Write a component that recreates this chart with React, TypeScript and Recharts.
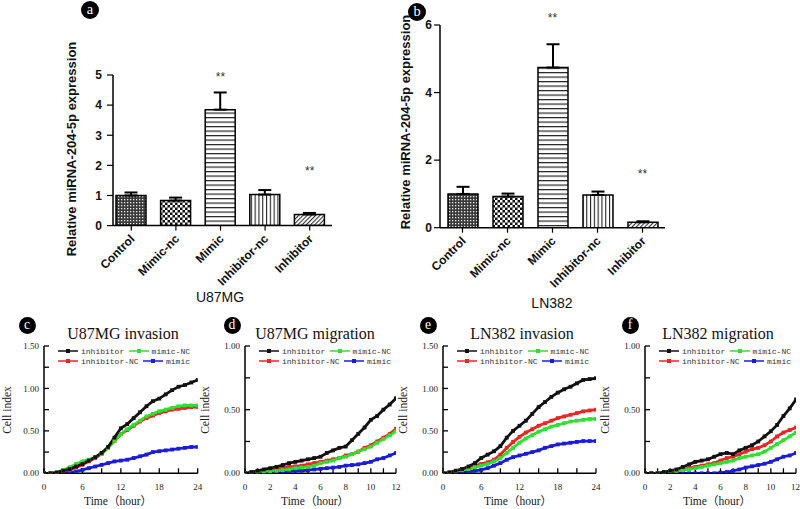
import React from "react";
import {
  BarChart,
  Bar,
  Cell,
  XAxis,
  YAxis,
  ErrorBar,
  ReferenceDot,
  LineChart,
  Line,
  Legend,
} from "recharts";

// ---- bar panels (a, b) ----
const GROUPS = ["Control", "Mimic-nc", "Mimic", "Inhibitor-nc", "Inhibitor"];
const U87_MEAN = [1.0, 0.83, 3.85, 1.03, 0.37];
const U87_SEM = [0.1, 0.1, 0.57, 0.15, 0.05];
const LN382_MEAN = [1.0, 0.92, 4.74, 0.97, 0.16];
const LN382_SEM = [0.21, 0.09, 0.69, 0.1, 0.03];
const U87_TICKS = [0, 1, 2, 3, 4, 5];
const LN382_TICKS = [0, 2, 4, 6];
const U87_SIG = [
  { group: "Mimic", at: 4.95 },
  { group: "Inhibitor", at: 1.82 },
];
const LN382_SIG = [
  { group: "Mimic", at: 6.22 },
  { group: "Inhibitor", at: 1.6 },
];

// ---- curve panels (c-f) ----
const TIME_INV = [0, 1, 2, 3, 4, 5, 6, 7, 8, 9, 10, 11, 12, 13, 14, 15, 16, 17, 18, 19, 20, 21, 22, 23, 24];
const TIME_MIG = [0, 0.5, 1, 1.5, 2, 2.5, 3, 3.5, 4, 4.5, 5, 5.5, 6, 6.5, 7, 7.5, 8, 8.5, 9, 9.5, 10, 10.5, 11, 11.5, 12];
const TICKS_INV = [0, 3, 6, 9, 12, 15, 18, 21, 24];
const TICKS_MIG = [0, 1, 2, 3, 4, 5, 6, 7, 8, 9, 10, 11, 12];
const TICKS_CI_INV = [0, 0.25, 0.5, 0.75, 1, 1.25, 1.5];
const TICKS_CI_MIG = [0, 0.25, 0.5, 0.75, 1];

// c: U87MG invasion
const C_INHIBITOR = [0, 0, 0.01, 0.03, 0.05, 0.08, 0.11, 0.15, 0.19, 0.24, 0.31, 0.42, 0.53, 0.58, 0.65, 0.72, 0.79, 0.85, 0.88, 0.93, 0.98, 1.02, 1.04, 1.07, 1.1];
const C_INHIBITOR_NC = [0, 0, 0, 0.02, 0.04, 0.07, 0.1, 0.14, 0.18, 0.23, 0.3, 0.38, 0.46, 0.51, 0.56, 0.61, 0.65, 0.68, 0.71, 0.73, 0.75, 0.76, 0.77, 0.78, 0.78];
const C_MIMIC_NC = [0, 0, 0.01, 0.04, 0.07, 0.11, 0.14, 0.16, 0.19, 0.23, 0.3, 0.38, 0.46, 0.52, 0.57, 0.62, 0.67, 0.7, 0.73, 0.75, 0.77, 0.79, 0.8, 0.8, 0.8];
const C_MIMIC = [0, 0, 0, 0.005, 0.01, 0.02, 0.04, 0.06, 0.08, 0.1, 0.12, 0.14, 0.15, 0.16, 0.18, 0.2, 0.22, 0.25, 0.26, 0.27, 0.28, 0.29, 0.3, 0.31, 0.31];

// d: U87MG migration
const D_INHIBITOR = [0, 0.01, 0.02, 0.03, 0.04, 0.05, 0.065, 0.08, 0.09, 0.1, 0.11, 0.12, 0.13, 0.16, 0.18, 0.2, 0.21, 0.26, 0.31, 0.36, 0.42, 0.45, 0.5, 0.54, 0.59];
const D_INHIBITOR_NC = [0, 0, 0.01, 0.015, 0.02, 0.03, 0.04, 0.05, 0.055, 0.06, 0.07, 0.08, 0.09, 0.1, 0.11, 0.12, 0.14, 0.15, 0.17, 0.2, 0.22, 0.25, 0.28, 0.31, 0.35];
const D_MIMIC_NC = [0, 0, 0, 0.01, 0.015, 0.02, 0.025, 0.03, 0.04, 0.045, 0.05, 0.06, 0.08, 0.09, 0.1, 0.12, 0.13, 0.15, 0.17, 0.19, 0.21, 0.24, 0.27, 0.3, 0.33];
const D_MIMIC = [0, 0, 0, 0, 0.005, 0.01, 0.01, 0.015, 0.02, 0.02, 0.025, 0.03, 0.035, 0.04, 0.045, 0.05, 0.06, 0.065, 0.07, 0.08, 0.09, 0.11, 0.12, 0.14, 0.16];

// e: LN382 invasion
const E_INHIBITOR = [0, 0.01, 0.03, 0.05, 0.08, 0.12, 0.18, 0.22, 0.26, 0.32, 0.42, 0.5, 0.56, 0.62, 0.7, 0.78, 0.84, 0.9, 0.95, 0.99, 1.02, 1.06, 1.1, 1.11, 1.12];
const E_INHIBITOR_NC = [0, 0.01, 0.03, 0.05, 0.07, 0.09, 0.11, 0.13, 0.16, 0.22, 0.3, 0.37, 0.43, 0.48, 0.52, 0.56, 0.59, 0.62, 0.65, 0.67, 0.69, 0.71, 0.73, 0.74, 0.75];
const E_MIMIC_NC = [0, 0.01, 0.02, 0.04, 0.05, 0.07, 0.09, 0.11, 0.14, 0.18, 0.24, 0.3, 0.36, 0.41, 0.45, 0.49, 0.52, 0.55, 0.57, 0.59, 0.61, 0.62, 0.63, 0.64, 0.64];
const E_MIMIC = [0, 0, 0.005, 0.01, 0.02, 0.03, 0.04, 0.06, 0.09, 0.12, 0.16, 0.19, 0.21, 0.23, 0.25, 0.27, 0.3, 0.32, 0.34, 0.35, 0.36, 0.37, 0.38, 0.38, 0.38];

// f: LN382 migration
const F_INHIBITOR = [0, 0, 0, 0.01, 0.02, 0.03, 0.05, 0.07, 0.09, 0.1, 0.11, 0.13, 0.15, 0.16, 0.15, 0.18, 0.2, 0.22, 0.25, 0.29, 0.33, 0.38, 0.45, 0.51, 0.58];
const F_INHIBITOR_NC = [0, 0, 0, 0.01, 0.015, 0.02, 0.03, 0.04, 0.05, 0.06, 0.07, 0.08, 0.1, 0.12, 0.13, 0.15, 0.17, 0.19, 0.2, 0.22, 0.25, 0.29, 0.32, 0.34, 0.36];
const F_MIMIC_NC = [0, 0, 0, 0.01, 0.015, 0.02, 0.025, 0.03, 0.04, 0.05, 0.06, 0.07, 0.08, 0.09, 0.1, 0.12, 0.13, 0.14, 0.15, 0.17, 0.2, 0.23, 0.26, 0.29, 0.32];
const F_MIMIC = [0, 0, 0, 0, 0, 0, 0, 0, 0, 0, 0, 0, 0.005, 0.01, 0.02, 0.03, 0.045, 0.055, 0.065, 0.075, 0.09, 0.11, 0.13, 0.14, 0.16];

const COLORS = {
  inhibitor: "#111111",
  inhibitorNC: "#e82626",
  mimicNC: "#30e030",
  mimic: "#1c1cd8",
};

const SANS = "'Liberation Sans', Arial, sans-serif";
const SERIF = "'Liberation Serif', 'Times New Roman', 'Noto Sans CJK SC', serif";
const MONO = "'Liberation Mono', 'DejaVu Sans Mono', monospace";

function PanelBadge({ x, y, letter, r = 8.5 }) {
  return (
    <div
      style={{
        position: "absolute",
        left: x - r,
        top: y - r,
        width: r * 2,
        height: r * 2,
        borderRadius: "50%",
        background: "#000",
        color: "#fff",
        fontFamily: SERIF,
        fontSize: r * 1.6,
        lineHeight: `${r * 2 - 2}px`,
        textAlign: "center",
      }}
    >
      {letter}
    </div>
  );
}

function Caption({ x, y, children, style, vertical = false }) {
  return (
    <div
      style={{
        position: "absolute",
        left: x,
        top: y,
        transform: `translate(-50%, -50%)${vertical ? " rotate(-90deg)" : ""}`,
        whiteSpace: "nowrap",
        lineHeight: 1,
        ...style,
      }}
    >
      {children}
    </div>
  );
}

function Patterns({ idp }) {
  return (
    <defs>
      <pattern id={`${idp}-0`} width={3} height={3} patternUnits="userSpaceOnUse">
        <rect width={3} height={3} fill="#3a3a3a" />
        <rect x={1} y={1} width={1.3} height={1.3} fill="#e8e8e8" />
      </pattern>
      <pattern id={`${idp}-1`} width={5} height={5} patternUnits="userSpaceOnUse">
        <rect width={5} height={5} fill="#111" />
        <rect x={0} y={0} width={2.5} height={2.5} fill="#fff" />
        <rect x={2.5} y={2.5} width={2.5} height={2.5} fill="#fff" />
      </pattern>
      <pattern id={`${idp}-2`} width={4.5} height={4.5} patternUnits="userSpaceOnUse">
        <rect width={4.5} height={4.5} fill="#fff" />
        <rect x={0} y={0} width={4.5} height={1.2} fill="#222" />
      </pattern>
      <pattern id={`${idp}-3`} width={3.8} height={3.8} patternUnits="userSpaceOnUse">
        <rect width={3.8} height={3.8} fill="#fff" />
        <rect x={0} y={0} width={1.1} height={3.8} fill="#222" />
      </pattern>
      <pattern
        id={`${idp}-4`}
        width={3}
        height={3}
        patternUnits="userSpaceOnUse"
        patternTransform="rotate(45)"
      >
        <rect width={3} height={3} fill="#fff" />
        <rect x={0} y={0} width={1.1} height={3} fill="#333" />
      </pattern>
    </defs>
  );
}

function GroupTick({ x, y, payload }) {
  const px = x + 4;
  const py = y + 8;
  return (
    <text
      x={px}
      y={py}
      textAnchor="end"
      transform={`rotate(-45 ${px} ${py})`}
      fontFamily={SANS}
      fontWeight="bold"
      fontSize={12}
      fill="#111"
    >
      {payload.value}
    </text>
  );
}

function ExpressionPanel({ idp, left, top, width, height, margin, mean, sem, yMax, yTicks, sig, tickMargin, padLeft }) {
  const data = GROUPS.map((g, i) => ({ group: g, value: mean[i], err: [0, sem[i]] }));
  return (
    <div style={{ position: "absolute", left, top }}>
      <BarChart width={width} height={height} data={data} margin={margin}>
        <Patterns idp={idp} />
        <XAxis
          dataKey="group"
          height={60}
          interval={0}
          padding={{ left: padLeft, right: 0 }}
          axisLine={{ stroke: "#000", strokeWidth: 1.5 }}
          tickLine={{ stroke: "#000", strokeWidth: 1.2 }}
          tickSize={5}
          tickMargin={1}
          tick={<GroupTick />}
        />
        <YAxis
          width={40}
          domain={[0, yMax]}
          ticks={yTicks}
          allowDataOverflow
          axisLine={{ stroke: "#000", strokeWidth: 1.5 }}
          tickLine={{ stroke: "#000", strokeWidth: 1.2 }}
          tickSize={6}
          tickMargin={tickMargin}
          tick={{ fontFamily: SANS, fontWeight: "bold", fontSize: 12, fill: "#111" }}
        />
        <Bar dataKey="value" barSize={30} stroke="#000" strokeWidth={1.5} isAnimationActive={false}>
          {data.map((d, i) => (
            <Cell key={d.group} fill={`url(#${idp}-${i})`} />
          ))}
          <ErrorBar dataKey="err" direction="y" width={6.5} stroke="#000" strokeWidth={2} />
        </Bar>
        {sig.map((s) => (
          <ReferenceDot
            key={s.group}
            x={s.group}
            y={s.at}
            r={1}
            fill="none"
            stroke="none"
            ifOverflow="visible"
            label={{ value: "**", position: "center", fontFamily: SANS, fontSize: 12, fill: "#333" }}
          />
        ))}
      </BarChart>
    </div>
  );
}

function LegendSwatch({ color }) {
  return (
    <svg width={20} height={8} style={{ display: "block", marginRight: 3 }}>
      <line x1={0} y1={4} x2={20} y2={4} stroke={color} strokeWidth={1.5} />
      <rect x={8} y={2} width={4} height={4} fill={color} />
    </svg>
  );
}

function CurveLegend({ payload }) {
  const colorOf = {};
  (payload || []).forEach((p) => {
    colorOf[p.value] = p.color;
  });
  const item = (name) => (
    <div style={{ display: "flex", alignItems: "center" }}>
      <LegendSwatch color={colorOf[name]} />
      <span>{name}</span>
    </div>
  );
  const row = { display: "flex", justifyContent: "space-between", height: 10, alignItems: "center" };
  return (
    <div style={{ width: 132, fontFamily: MONO, fontSize: 8, color: "#333" }}>
      <div style={row}>
        {item("inhibitor")}
        {item("mimic-NC")}
      </div>
      <div style={row}>
        {item("inhibitor-NC")}
        {item("mimic")}
      </div>
    </div>
  );
}

const squareDot = (color) => (p) => (
  <rect key={`sq-${p.index}`} x={p.cx - 1.9} y={p.cy - 1.9} width={3.8} height={3.8} fill={color} />
);

function CurvePanel({ left, width, axisW, rightPad, times, xMax, xTicks, xStep, yMax, yTicks, inhibitor, inhibitorNC, mimicNC, mimic }) {
  const top = 320;
  const height = 189;
  const data = times.map((t, i) => ({
    t,
    inhibitor: inhibitor[i],
    inhibitorNC: inhibitorNC[i],
    mimicNC: mimicNC[i],
    mimic: mimic[i],
  }));
  const series = [
    { key: "mimic", name: "mimic" },
    { key: "inhibitorNC", name: "inhibitor-NC" },
    { key: "mimicNC", name: "mimic-NC" },
    { key: "inhibitor", name: "inhibitor" },
  ];
  return (
    <div style={{ position: "absolute", left, top }}>
      <LineChart
        width={width}
        height={height}
        data={data}
        margin={{ top: 26, right: rightPad, left: 0, bottom: 15.7 }}
      >
        <XAxis
          type="number"
          dataKey="t"
          domain={[0, xMax]}
          ticks={xTicks}
          allowDataOverflow
          height={20}
          axisLine={{ stroke: "#000", strokeWidth: 1.5 }}
          tickLine={{ stroke: "#000", strokeWidth: 1.3 }}
          tickSize={-5}
          tickMargin={15}
          tickFormatter={(v) => (v % xStep === 0 ? String(v) : "")}
          tick={{ fontFamily: SERIF, fontSize: 9, fill: "#222" }}
        />
        <YAxis
          width={axisW}
          domain={[0, yMax]}
          ticks={yTicks}
          allowDataOverflow
          axisLine={{ stroke: "#000", strokeWidth: 1.5 }}
          tickLine={{ stroke: "#000", strokeWidth: 1.3 }}
          tickSize={-5}
          tickMargin={10}
          tickFormatter={(v) => (Math.round(v * 100) % 50 === 0 ? v.toFixed(2) : "")}
          tick={{ fontFamily: SERIF, fontSize: 9, fill: "#222" }}
        />
        <Legend
          layout="horizontal"
          verticalAlign="middle"
          align="center"
          content={<CurveLegend />}
          wrapperStyle={{ position: "absolute", left: axisW + 14, top: 26, width: 132 }}
        />
        {series.map((s) => (
          <Line
            key={s.key}
            type="linear"
            dataKey={s.key}
            name={s.name}
            stroke={COLORS[s.key]}
            strokeWidth={2.8}
            dot={squareDot(COLORS[s.key])}
            activeDot={false}
            isAnimationActive={false}
          />
        ))}
      </LineChart>
    </div>
  );
}

export default function App() {
  const ylabel = { fontFamily: SANS, fontWeight: "bold", fontSize: 13, color: "#111" };
  const title = { fontFamily: SERIF, fontSize: 16, color: "#111" };
  const axisTitle = { fontFamily: SERIF, fontSize: 11.5, color: "#222" };
  return (
    <div
      style={{
        position: "absolute",
        left: 0,
        top: 0,
        width: 800,
        height: 509,
        background: "#fff",
        overflow: "hidden",
      }}
    >
      <ExpressionPanel
        idp="pa"
        left={0}
        top={0}
        width={400}
        height={320}
        margin={{ top: 75, right: 68, left: 73, bottom: 34.4 }}
        mean={U87_MEAN}
        sem={U87_SEM}
        yMax={5}
        yTicks={U87_TICKS}
        sig={U87_SIG}
        tickMargin={5}
        padLeft={-4}
      />
      <ExpressionPanel
        idp="pb"
        left={400}
        top={0}
        width={400}
        height={320}
        margin={{ top: 25, right: 135, left: 0, bottom: 32.3 }}
        mean={LN382_MEAN}
        sem={LN382_SEM}
        yMax={6}
        yTicks={LN382_TICKS}
        sig={LN382_SIG}
        tickMargin={2}
        padLeft={0}
      />
      <PanelBadge x={90} y={10} letter="a" r={9} />
      <PanelBadge x={417} y={12} letter="b" r={9} />
      <Caption x={71} y={149} vertical style={ylabel}>
        Relative miRNA-204-5p expression
      </Caption>
      <Caption x={405} y={122} vertical style={ylabel}>
        Relative miRNA-204-5p expression
      </Caption>
      <Caption x={220} y={297} style={{ fontFamily: SANS, fontSize: 14, color: "#111" }}>
        U87MG
      </Caption>
      <Caption x={552} y={303} style={{ fontFamily: SANS, fontSize: 14, color: "#111" }}>
        LN382
      </Caption>

      <CurvePanel
        left={0}
        width={205}
        axisW={44}
        rightPad={7.3}
        times={TIME_INV}
        xMax={24}
        xTicks={TICKS_INV}
        xStep={6}
        yMax={1.5}
        yTicks={TICKS_CI_INV}
        inhibitor={C_INHIBITOR}
        inhibitorNC={C_INHIBITOR_NC}
        mimicNC={C_MIMIC_NC}
        mimic={C_MIMIC}
      />
      <CurvePanel
        left={205}
        width={200}
        axisW={40}
        rightPad={9}
        times={TIME_MIG}
        xMax={12}
        xTicks={TICKS_MIG}
        xStep={2}
        yMax={1}
        yTicks={TICKS_CI_MIG}
        inhibitor={D_INHIBITOR}
        inhibitorNC={D_INHIBITOR_NC}
        mimicNC={D_MIMIC_NC}
        mimic={D_MIMIC}
      />
      <CurvePanel
        left={405}
        width={198}
        axisW={38}
        rightPad={7}
        times={TIME_INV}
        xMax={24}
        xTicks={TICKS_INV}
        xStep={6}
        yMax={1.5}
        yTicks={TICKS_CI_INV}
        inhibitor={E_INHIBITOR}
        inhibitorNC={E_INHIBITOR_NC}
        mimicNC={E_MIMIC_NC}
        mimic={E_MIMIC}
      />
      <CurvePanel
        left={603}
        width={197}
        axisW={42}
        rightPad={4}
        times={TIME_MIG}
        xMax={12}
        xTicks={TICKS_MIG}
        xStep={2}
        yMax={1}
        yTicks={TICKS_CI_MIG}
        inhibitor={F_INHIBITOR}
        inhibitorNC={F_INHIBITOR_NC}
        mimicNC={F_MIMIC_NC}
        mimic={F_MIMIC}
      />

      <PanelBadge x={27} y={325} letter="c" />
      <PanelBadge x={232} y={325} letter="d" />
      <PanelBadge x={428} y={325} letter="e" />
      <PanelBadge x={630} y={325} letter="f" />
      <Caption x={123} y={334} style={title}>U87MG invasion</Caption>
      <Caption x={315} y={334} style={title}>U87MG migration</Caption>
      <Caption x={522} y={334} style={title}>LN382 invasion</Caption>
      <Caption x={718} y={334} style={title}>LN382 migration</Caption>
      <Caption x={8} y={410} vertical style={axisTitle}>Cell index</Caption>
      <Caption x={206} y={410} vertical style={axisTitle}>Cell index</Caption>
      <Caption x={404} y={410} vertical style={axisTitle}>Cell index</Caption>
      <Caption x={606} y={410} vertical style={axisTitle}>Cell index</Caption>
      <Caption x={118} y={502} style={axisTitle}>Time（hour）</Caption>
      <Caption x={315} y={502} style={axisTitle}>Time（hour）</Caption>
      <Caption x={518} y={502} style={axisTitle}>Time（hour）</Caption>
      <Caption x={717} y={502} style={axisTitle}>Time（hour）</Caption>
    </div>
  );
}
